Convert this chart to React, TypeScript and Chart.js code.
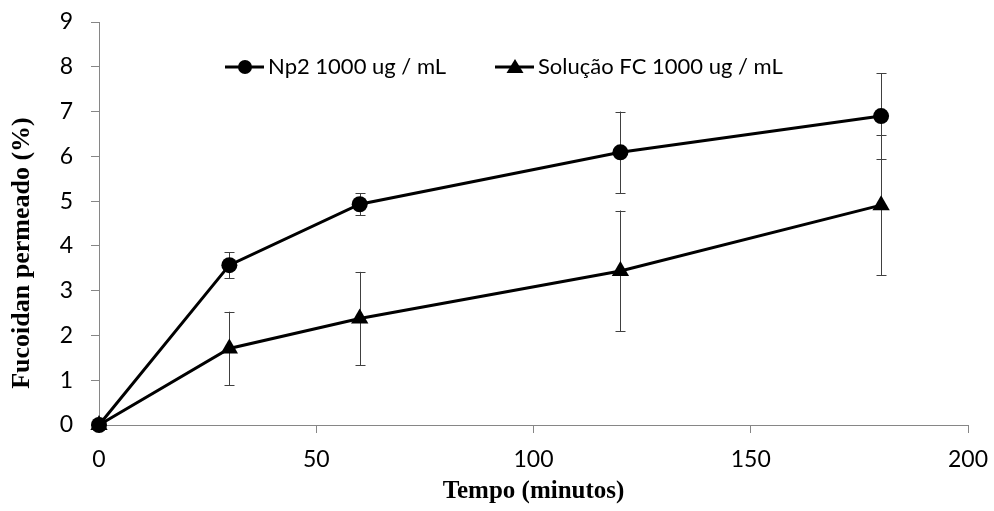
import React, { useEffect, useRef } from "react";
import { Chart, registerables } from "chart.js";

Chart.register(...registerables);

const times = [0, 30, 60, 120, 180];
const np2Values = [0, 3.57, 4.93, 6.09, 6.9];
const np2Errors = [0, 0.29, 0.25, 0.91, 0.96];
const fcValues = [0, 1.71, 2.38, 3.44, 4.91];
const fcErrors = [0, 0.82, 1.04, 1.35, 1.56];
const seriesLabels = ["Np2 1000 ug / mL", "Solução FC 1000 ug / mL"];
const xTitle = "Tempo (minutos)";
const yTitle = "Fucoidan permeado (%)";

const errorData = [np2Errors, fcErrors];

const errorBarPlugin = {
  id: "errorBars",
  beforeDatasetsDraw(chart: any) {
    const { ctx, scales } = chart;
    const xs = scales.x;
    const ys = scales.y;
    ctx.save();
    ctx.strokeStyle = "#404040";
    ctx.lineWidth = 1;
    chart.data.datasets.forEach((ds: any, di: number) => {
      ds.data.forEach((p: any, i: number) => {
        const e = errorData[di][i];
        if (!e) return;
        const x = Math.round(xs.getPixelForValue(p.x)) + 0.5;
        const yTop = ys.getPixelForValue(p.y + e);
        const yBot = ys.getPixelForValue(p.y - e);
        ctx.beginPath();
        ctx.moveTo(x, yTop);
        ctx.lineTo(x, yBot);
        ctx.moveTo(x - 5, Math.round(yTop) + 0.5);
        ctx.lineTo(x + 5, Math.round(yTop) + 0.5);
        ctx.moveTo(x - 5, Math.round(yBot) + 0.5);
        ctx.lineTo(x + 5, Math.round(yBot) + 0.5);
        ctx.stroke();
      });
    });
    ctx.restore();
  },
};

const legendPlugin = {
  id: "customLegend",
  afterDraw(chart: any) {
    const { ctx } = chart;
    const items = [
      { x: 225, style: "circle" },
      { x: 495, style: "triangle" },
    ];
    const y = 67;
    ctx.save();
    items.forEach((it, i) => {
      ctx.strokeStyle = "#000";
      ctx.lineWidth = 3;
      ctx.beginPath();
      ctx.moveTo(it.x, y);
      ctx.lineTo(it.x + 39, y);
      ctx.stroke();
      ctx.fillStyle = "#000";
      const cx = it.x + 20;
      if (it.style === "circle") {
        ctx.beginPath();
        ctx.arc(cx, y, 7, 0, Math.PI * 2);
        ctx.fill();
      } else {
        ctx.beginPath();
        ctx.moveTo(cx, y - 8);
        ctx.lineTo(cx + 8.5, y + 6);
        ctx.lineTo(cx - 8.5, y + 6);
        ctx.closePath();
        ctx.fill();
      }
      ctx.font = "22px Lato";
      ctx.textBaseline = "middle";
      ctx.textAlign = "left";
      ctx.fillText(chart.data.datasets[i].label, it.x + 43, y);
    });
    // y axis title, placed as in the reference (slightly below the axis centre)
    ctx.translate(22, 253);
    ctx.rotate(-Math.PI / 2);
    ctx.font = "bold 26px 'Liberation Serif'";
    ctx.textAlign = "center";
    ctx.textBaseline = "middle";
    ctx.fillStyle = "#000";
    ctx.fillText(yTitle, 0, 0);
    ctx.restore();
  },
};

export default function App() {
  const ref = useRef<HTMLCanvasElement | null>(null);
  useEffect(() => {
    if (!ref.current) return;
    const mk = (vals: number[]) => times.map((t, i) => ({ x: t, y: vals[i] }));
    const chart = new Chart(ref.current, {
      type: "line",
      data: {
        datasets: [
          {
            label: seriesLabels[0],
            data: mk(np2Values),
            borderColor: "#000",
            backgroundColor: "#000",
            borderWidth: 3,
            pointStyle: "circle",
            pointRadius: 8,
            pointBorderWidth: 0,
            tension: 0,
            clip: false,
          },
          {
            label: seriesLabels[1],
            data: mk(fcValues),
            borderColor: "#000",
            backgroundColor: "#000",
            borderWidth: 3,
            pointStyle: "triangle",
            pointRadius: 10,
            pointBorderWidth: 0,
            tension: 0,
            clip: false,
          },
        ],
      },
      options: {
        animation: false,
        responsive: false,
        layout: { padding: { top: 22, right: 26, left: 0, bottom: 0 } },
        plugins: { legend: { display: false }, tooltip: { enabled: false } },
        scales: {
          x: {
            type: "linear",
            min: 0,
            max: 200,
            ticks: { stepSize: 50, color: "#000", font: { family: "Lato", size: 23 }, padding: 13 },
            grid: { drawOnChartArea: false, color: "#868686", tickLength: 8 },
            border: { color: "#868686", width: 1 },
            title: {
              display: true,
              text: xTitle,
              color: "#000",
              font: { family: "Liberation Serif", size: 25, weight: "bold" },
              padding: { top: 6 },
            },
            afterFit(s: any) {
              s.height = 86;
              s.paddingLeft = 0;
              s.paddingRight = 0;
            },
          },
          y: {
            type: "linear",
            min: 0,
            max: 9,
            ticks: { stepSize: 1, color: "#000", font: { family: "Lato", size: 23 }, padding: 18 },
            grid: { drawOnChartArea: false, color: "#868686", tickLength: 8 },
            border: { color: "#868686", width: 1 },
            title: { display: false },
            afterFit(s: any) {
              s.width = 99;
              s.paddingTop = 0;
              s.paddingBottom = 0;
            },
          },
        },
      },
      plugins: [errorBarPlugin, legendPlugin],
    });
    return () => chart.destroy();
  }, []);
  return (
    <div style={{ position: "fixed", left: 0, top: 0, width: 994, height: 511, background: "#fff" }}>
      <canvas ref={ref} width={994} height={511} />
    </div>
  );
}
